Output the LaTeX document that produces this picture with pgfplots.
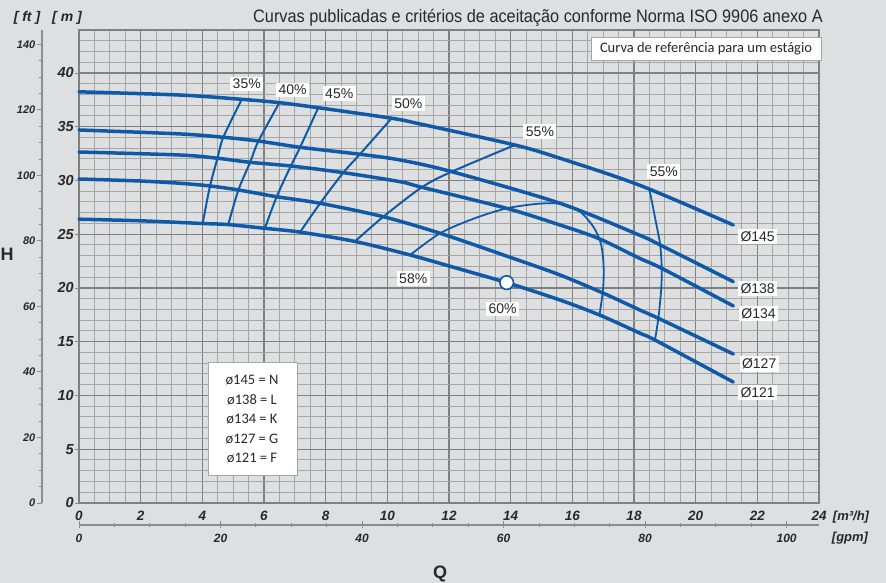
\documentclass[border=0pt]{standalone}
\usepackage{fontspec}
\setmainfont{Liberation Sans}
\newfontfamily\carlito{Carlito}
\newfontfamily\condfont[FakeStretch=0.905]{Liberation Sans}
\usepackage{pgfplots}
\pgfplotsset{compat=1.18}

\definecolor{bg}{RGB}{222,223,225}
\definecolor{pblue}{RGB}{14,90,168}
\definecolor{txt}{RGB}{40,40,40}
\definecolor{gridminor}{RGB}{165,165,165}
\definecolor{gridmajor}{RGB}{128,128,128}
\definecolor{axgray}{RGB}{140,140,140}

\newcommand\fs[1]{\fontsize{#1}{#1}\selectfont}

\pgfplotsset{
  pump/.style={pblue, line width=3.5pt, smooth, line cap=round},
  eff/.style={pblue, line width=2pt, smooth, line cap=round},
}
\tikzset{lab/.style={fill=white, inner sep=2.5pt, font=\fs{14}, text=txt}}

\begin{document}
\begin{tikzpicture}[x=1pt,y=1pt]
\fill[bg] (0,0) rectangle (886,583);
\path[use as bounding box] (0,0) rectangle (886,583);

% feet scale
\begin{axis}[
  at={(42pt,80pt)}, anchor=south west,
  scale only axis, width=10pt, height=473pt,
  xmin=0, xmax=1, ymin=0, ymax=144.357,
  axis y line*=left, hide x axis,
  ytick={0,20,...,140}, minor ytick={0,5,...,140},
  tick align=outside, major tick length=5pt, minor tick length=3pt,
  axis line style={draw=axgray, line width=1.2pt},
  every tick/.style={draw=axgray, line width=0.9pt},
  tick label style={/pgf/number format/assume math mode=true},
  yticklabel style={font=\bfseries\itshape\fs{11}, text=txt, inner sep=1.5pt},
]
\end{axis}

% gpm scale
\begin{axis}[
  at={(79pt,58pt)}, anchor=south west,
  scale only axis, width=740pt, height=10pt,
  xmin=0, xmax=104.575, ymin=0, ymax=1,
  axis x line*=bottom, hide y axis,
  xtick={0,20,...,100}, minor xtick={0,5,...,100},
  tick align=center, major tick length=7pt, minor tick length=4pt,
  axis line style={draw=axgray, line width=1.2pt},
  every tick/.style={draw=axgray, line width=0.9pt},
  tick label style={/pgf/number format/assume math mode=true},
  xticklabel style={font=\bfseries\itshape\fs{12}, text=txt, inner sep=1.5pt, yshift=-4pt},
]
\end{axis}

% main chart
\begin{axis}[
  at={(79pt,80pt)}, anchor=south west,
  scale only axis, width=740pt, height=473pt,
  xmin=0, xmax=24, ymin=0, ymax=44,
  xtick={0,2,...,24}, ytick={0,5,...,40},
  minor xtick={0,0.5,...,24}, minor ytick={0,1,...,44},
  grid=both,
  minor grid style={draw=gridminor, line width=1pt},
  major grid style={draw=gridmajor, line width=1.3pt},
  axis line style={draw=gridmajor, line width=1.4pt},
  xtick style={draw=none}, minor tick length=0pt,
  ytick pos=left, tick align=outside, major tick length=4pt,
  ytick style={draw=axgray, line width=0.9pt},
  tick label style={/pgf/number format/assume math mode=true},
  yticklabel style={font=\bfseries\itshape\fs{14.5}, text=txt, inner sep=1pt},
  xticklabel style={font=\bfseries\itshape\fs{13.5}, text=txt, inner sep=2pt, yshift=-2pt},
  clip=false,
]
% iso-efficiency lines
\addplot[eff] coordinates {(5.28,37.55) (4.68,34.02) (4.49,32.07) (4.25,29.49) (4.01,26.0)};
\addplot[eff] coordinates {(6.50,37.24) (5.82,33.67) (5.55,31.69) (5.17,29.12) (4.84,25.9)};
\addplot[eff] coordinates {(7.76,36.77) (7.17,33.09) (6.87,31.35) (6.41,28.49) (6.03,25.55)};
\addplot[eff] coordinates {(10.14,35.79) (9.11,32.44) (8.57,30.73) (7.82,27.88) (7.17,25.2)};
\addplot[eff] coordinates {(14.14,33.30) (12.09,30.82) (11.12,29.37) (9.87,26.63) (8.95,24.33)};
\addplot[pblue, line width=1.8pt, smooth] coordinates {(10.74,23.07) (11.71,25.09) (12.8,26.45) (13.87,27.41) (14.95,27.85) (15.7,27.8) (16.25,27.1) (16.68,25.7) (16.92,24.2) (17.01,22.3) (17.0,20.0) (16.88,17.49)};
\addplot[pblue, line width=1.8pt, smooth] coordinates {(18.50,29.18) (18.74,25.7) (18.85,24.0) (18.90,21.83) (18.88,19.81) (18.79,17.18) (18.68,15.16)};
% pump curves
\addplot[pump] coordinates {(0,38.25) (3.28,37.95) (5.28,37.55) (6.50,37.24) (7.76,36.77) (10.14,35.79) (11.06,35.26) (14.14,33.30) (15.6,32.07) (18.19,29.55) (21.22,25.86)};
\addplot[pump] coordinates {(0,34.70) (3.28,34.33) (4.68,34.02) (5.82,33.67) (7.17,33.09) (9.11,32.44) (10.41,31.91) (12.09,30.82) (15.6,27.88) (18.19,24.9) (18.85,24.0) (21.22,20.59)};
\addplot[pump] coordinates {(0,32.65) (3.28,32.37) (4.49,32.07) (5.55,31.69) (6.87,31.35) (8.57,30.73) (10.41,29.89) (11.12,29.37) (13.87,27.41) (15.6,25.86) (16.84,24.62) (18.19,22.75) (18.9,21.83) (21.22,18.33)};
\addplot[pump] coordinates {(0,30.14) (2,29.95) (3.28,29.74) (4.25,29.49) (5.17,29.12) (6.41,28.49) (7.82,27.88) (9.87,26.63) (11.71,25.09) (13.87,22.97) (15.6,21.21) (17.01,19.51) (18.19,17.95) (18.79,17.18) (21.22,13.86)};
\addplot[pump] coordinates {(0,26.40) (2,26.25) (4.01,26.0) (4.84,25.9) (6.03,25.55) (7.17,25.2) (8.95,24.33) (10.74,23.07) (12,22.05) (13.87,20.5) (15.6,18.88) (16.88,17.49) (18.19,15.8) (18.68,15.16) (21.22,11.25)};
% best efficiency point
\addplot[only marks, mark=*, mark size=6.8pt, mark options={fill=white, draw=pblue, line width=1.6pt}] coordinates {(13.87,20.5)};
% labels
\node[lab] at (axis cs:5.44,38.98) {35\%};
\node[lab] at (axis cs:6.93,38.42) {40\%};
\node[lab] at (axis cs:8.44,38.11) {45\%};
\node[lab] at (axis cs:10.68,37.18) {50\%};
\node[lab] at (axis cs:14.95,34.54) {55\%};
\node[lab] at (axis cs:18.97,30.82) {55\%};
\node[lab] at (axis cs:10.84,20.9) {58\%};
\node[lab] at (axis cs:13.74,18.05) {60\%};
\node[lab] at (axis cs:22.01,24.77) {Ø145};
\node[lab] at (axis cs:22.01,19.97) {Ø138};
\node[lab] at (axis cs:22.04,17.65) {Ø134};
\node[lab] at (axis cs:22.06,12.93) {Ø127};
\node[lab] at (axis cs:22.01,10.26) {Ø121};
\end{axis}

% title and units
\node[font=\condfont\fs{18}, text=txt] at (538,565) {Curvas publicadas e critérios de aceitação conforme Norma ISO 9906 anexo A};
\node[font=\bfseries\itshape\fs{14}, text=txt] at (27,565) {[ ft ]};
\node[font=\bfseries\itshape\fs{14}, text=txt] at (67,565) {[ m ]};
\node[font=\bfseries\itshape\fs{13}, text=txt] at (851,66) {[m³/h]};
\node[font=\bfseries\itshape\fs{13}, text=txt] at (850,45) {[gpm]};
\node[font=\bfseries\fs{18}, text=txt] at (440,9) {Q};
\node[font=\bfseries\fs{18}, text=txt, anchor=west, inner sep=0.5pt] at (0,329) {H};

% reference box
\draw[gray!70, fill=white, line width=0.8pt] (591,523) rectangle (821,546);
\node[font=\carlito\fs{14.5}, text=txt] at (706,534.5) {Curva de referência para um estágio};

% key box
\draw[gray!70, fill=white, line width=0.8pt] (208,108) rectangle (297,221);
\node[font=\carlito\fs{14.5}, text=txt] at (252,202.5) {ø145 = N};
\node[font=\carlito\fs{14.5}, text=txt] at (252,183) {ø138 = L};
\node[font=\carlito\fs{14.5}, text=txt] at (252,163.5) {ø134 = K};
\node[font=\carlito\fs{14.5}, text=txt] at (252,144) {ø127 = G};
\node[font=\carlito\fs{14.5}, text=txt] at (252,124.5) {ø121 = F};
\end{tikzpicture}
\end{document}
